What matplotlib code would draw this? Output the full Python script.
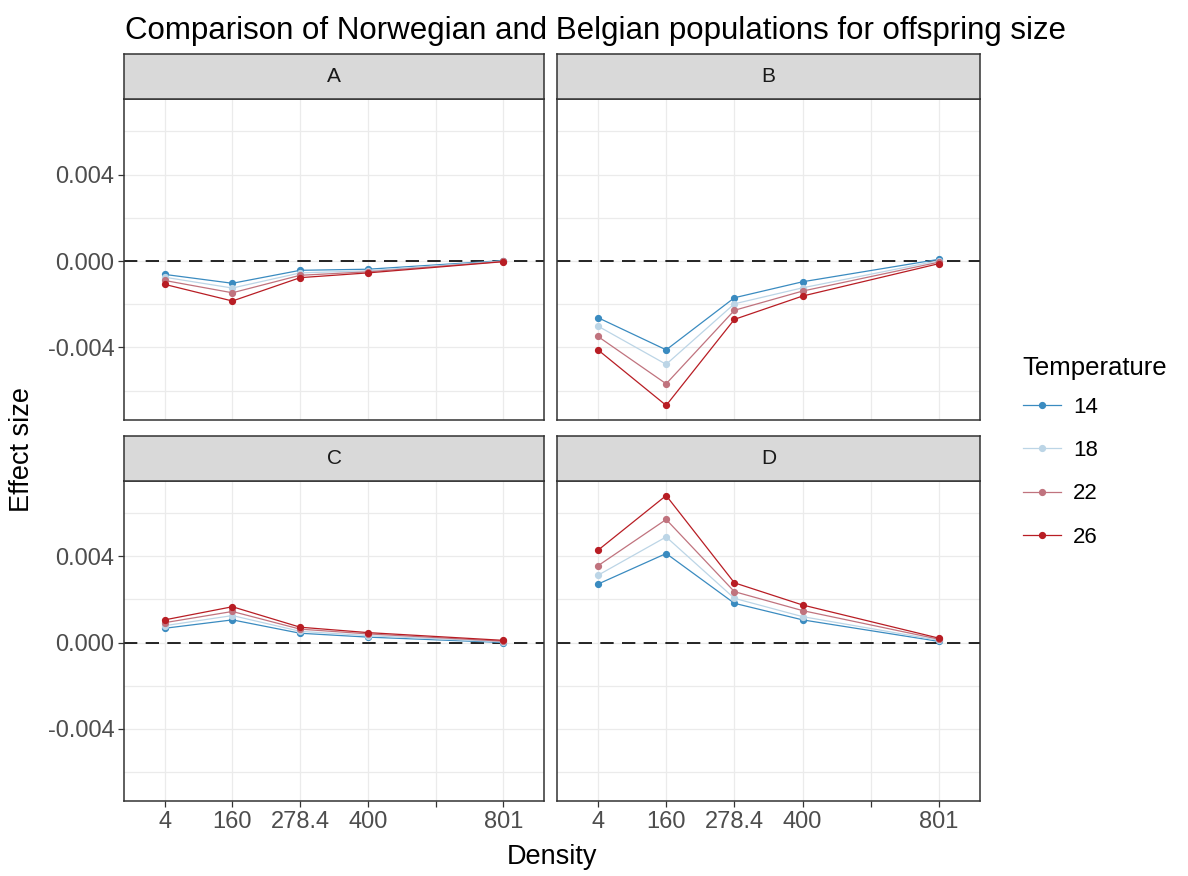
import numpy as np
import matplotlib
matplotlib.use("Agg")
import matplotlib.pyplot as plt
from matplotlib.lines import Line2D

plt.rcParams["font.family"] = ["Liberation Sans", "DejaVu Sans"]

# Data: effect size per temperature (rows) and density (columns)

densities = ["4", "160", "278.4", "400", "801"]
tick_labels = ["4", "160", "278.4", "400", "", "801"]
temperatures = ["14", "18", "22", "26"]

panel_a = [
    [-0.00062, -0.00103, -0.00043, -0.00038, 0.00002],
    [-0.00075, -0.00125, -0.00055, -0.00045, 0.00000],
    [-0.00090, -0.00147, -0.00066, -0.00050, -0.00002],
    [-0.00108, -0.00185, -0.00077, -0.00055, -0.00003],
]
panel_b = [
    [-0.00262, -0.00411, -0.00170, -0.00096, 0.00008],
    [-0.00301, -0.00478, -0.00198, -0.00124, 0.00002],
    [-0.00349, -0.00568, -0.00228, -0.00139, -0.00005],
    [-0.00411, -0.00668, -0.00270, -0.00162, -0.00012],
]
panel_c = [
    [0.00066, 0.00105, 0.00043, 0.00025, 0.00000],
    [0.00078, 0.00125, 0.00052, 0.00032, 0.00003],
    [0.00092, 0.00144, 0.00062, 0.00040, 0.00006],
    [0.00105, 0.00166, 0.00071, 0.00046, 0.00010],
]
panel_d = [
    [0.00271, 0.00413, 0.00182, 0.00105, 0.00005],
    [0.00312, 0.00490, 0.00205, 0.00120, 0.00010],
    [0.00356, 0.00571, 0.00236, 0.00148, 0.00015],
    [0.00428, 0.00682, 0.00277, 0.00174, 0.00020],
]

panels = {"A": panel_a, "B": panel_b, "C": panel_c, "D": panel_d}
temp_colors = ["#3A8BC0", "#BCD5E6", "#C0737E", "#B81D24"]

# Layout in pixels

W, H = 1188, 876
fig = plt.figure(figsize=(W / 100, H / 100), dpi=100)


def px_axes(x0, y0, x1, y1):
    return fig.add_axes([x0 / W, 1 - y1 / H, (x1 - x0) / W, (y1 - y0) / H])


cols = [(124, 544), (557, 980)]
rows = [(99, 420), (481, 801)]
strip_h = 45

x_pos = [tick_labels.index(d) for d in densities]
all_vals = np.array([panel_a, panel_b, panel_c, panel_d])
lo, hi = all_vals.min(), all_vals.max()
pad = (hi - lo) * 0.05
ylim = (lo - pad, hi + pad)

dark = "#333333"

for i, (name, vals) in enumerate(panels.items()):
    r, c = divmod(i, 2)
    x0, x1 = cols[c]
    y0, y1 = rows[r]

    ax = px_axes(x0, y0, x1, y1)
    ax.set_xlim(-0.6, 5.6)
    ax.set_ylim(*ylim)

    # grid: major and minor lines look alike
    for yv in np.arange(-0.006, 0.0061, 0.002):
        ax.axhline(yv, color="#EBEBEB", linewidth=0.9, zorder=0)
    for xv in range(len(tick_labels)):
        ax.axvline(xv, color="#EBEBEB", linewidth=0.9, zorder=0)

    ax.axhline(0, color="black", linestyle=(0, (8, 5)), linewidth=1.2, zorder=1)

    for k, series in enumerate(vals):
        ax.plot(x_pos, series, color=temp_colors[k], linewidth=0.9,
                marker="o", markersize=4.2, zorder=2 + k)

    ax.set_xticks(range(len(tick_labels)))
    ax.set_yticks([-0.004, 0.0, 0.004])
    ax.tick_params(axis="both", length=4, width=0.9, color=dark,
                   labelsize=17, labelcolor="#4D4D4D", pad=3)
    if r == 0:
        ax.tick_params(axis="x", length=0, labelbottom=False)
    else:
        ax.set_xticklabels(tick_labels)
    if c == 1:
        ax.tick_params(axis="y", length=0, labelleft=False)
    else:
        ax.set_yticklabels(["-0.004", "0.000", "0.004"])

    for sp in ax.spines.values():
        sp.set_color(dark)
        sp.set_linewidth(1.1)

    # facet strip
    sax = px_axes(x0, y0 - strip_h, x1, y0)
    sax.set_facecolor("#D9D9D9")
    sax.set_xticks([])
    sax.set_yticks([])
    for sp in sax.spines.values():
        sp.set_color(dark)
        sp.set_linewidth(1.1)
    sax.text(0.5, 0.5, name, ha="center", va="center", fontsize=15,
             color="#1A1A1A", transform=sax.transAxes)

fig.text(125 / W, 1 - 31 / H, "Comparison of Norwegian and Belgian populations for offspring size",
         ha="left", va="center", fontsize=22.5, color="black")
fig.text(552 / W, 1 - 857 / H, "Density", ha="center", va="center", fontsize=19.5)
fig.text(22 / W, 1 - 450 / H, "Effect size", ha="center", va="center",
         rotation=90, fontsize=19.5)

# legend: title drawn separately so its gap to the keys can be set
fig.text(1022 / W, 1 - 368 / H, "Temperature", ha="left", va="center", fontsize=18.5)
handles = [
    Line2D([0], [0], color=temp_colors[k], linewidth=0.9, marker="o",
           markersize=4.2, label=t)
    for k, t in enumerate(temperatures)
]
leg = fig.legend(
    handles=handles,
    loc="upper left",
    bbox_to_anchor=(1003 / W, 1 - 377 / H),
    frameon=False,
    fontsize=16,
    handlelength=1.7,
    handletextpad=0.55,
    labelspacing=1.0,
)

fig.savefig("out.png", dpi=100)
